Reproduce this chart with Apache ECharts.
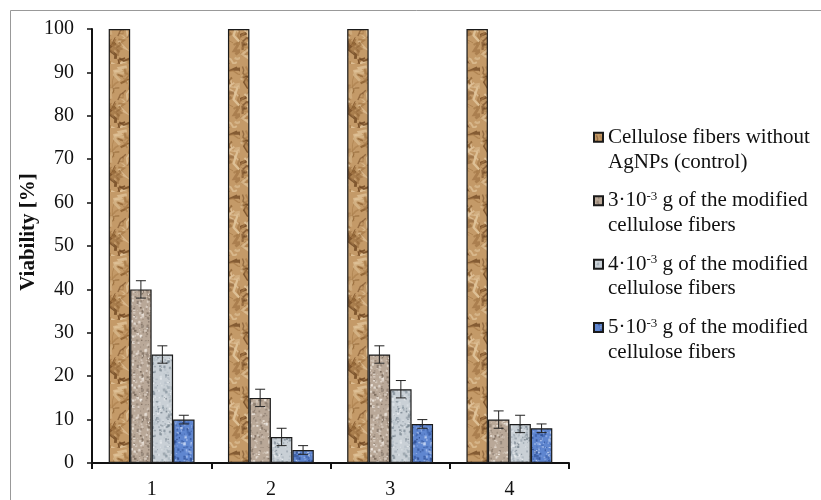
<!DOCTYPE html>
<html><head><meta charset="utf-8">
<script src="https://cdn.jsdelivr.net/npm/echarts@6/dist/echarts.min.js"></script>
<style>html,body{margin:0;padding:0;background:#fff}#c{width:821px;height:500px}</style>
</head><body><div id="c"></div>
<script>
// ---- data ----
const categories = ['1', '2', '3', '4'];
const seriesNames = [
  'Cellulose fibers without\nAgNPs (control)',
  '3·10-3 g of the modified\ncellulose fibers',
  '4·10-3 g of the modified\ncellulose fibers',
  '5·10-3 g of the modified\ncellulose fibers'
];
const controlValues = [100, 100, 100, 100];
const dose3Values = [40, 15, 25, 10];
const dose4Values = [25, 6, 17, 9];
const dose5Values = [10, 3, 9, 8];
const controlErr = [0, 0, 0, 0];
const dose3Err = [2, 2, 2, 2];
const dose4Err = [2, 2, 2, 2];
const dose5Err = [1, 1, 1, 1];
const yTicks = [0, 10, 20, 30, 40, 50, 60, 70, 80, 90, 100];

// ---- textures (style only) ----
function rng(seed){ let s = seed >>> 0; return () => { s = (s * 1664525 + 1013904223) >>> 0; return s / 4294967296; }; }
function tex(base, spots, seed, kind){
  const c = document.createElement('canvas'); c.width = 48; c.height = 64;
  const g = c.getContext('2d'); const r = rng(seed);
  g.fillStyle = base; g.fillRect(0,0,48,64);
  if (kind === 'paper') {
    for (let i = 0; i < 70; i++) {
      g.strokeStyle = spots[Math.floor(r()*spots.length)];
      g.lineWidth = 0.8 + r()*2.2; g.globalAlpha = 0.35 + r()*0.55;
      g.beginPath(); let x = r()*48, y = r()*64; g.moveTo(x,y);
      for (let k = 0; k < 3; k++){ x += (r()-0.5)*16; y += (r()-0.3)*10; g.lineTo(x,y); }
      g.stroke();
    }
  } else {
    for (let i = 0; i < 380; i++) {
      g.fillStyle = spots[Math.floor(r()*spots.length)];
      g.globalAlpha = 0.45 + r()*0.5;
      const s = 0.8 + r()*1.8;
      g.fillRect(r()*48, r()*64, s, s*(0.6+r()*0.8));
    }
  }
  g.globalAlpha = 1;
  return { image: c, repeat: 'repeat' };
}
const colors = [
  tex('#c49a68', ['#6e4520', '#8e6233', '#e3c79e', '#a87c4a'], 11, 'paper'),
  tex('#b9a898', ['#7a6a5c', '#d8ccc0', '#8e7f72', '#efe8e0'], 23, 'dots'),
  tex('#c9d0d6', ['#8e9aa4', '#e8ecef', '#7a8690', '#b0bac2'], 37, 'dots'),
  tex('#5f86d0', ['#9bb6ea', '#3a5ea8', '#c4d4f2', '#2f4f94'], 51, 'dots')
];
const values = [controlValues, dose3Values, dose4Values, dose5Values];
const errs = [controlErr, dose3Err, dose4Err, dose5Err];
const CAT_GAP = 0.28;

const chart = echarts.init(document.getElementById('c'), null, { renderer: 'canvas' });
const FONT = "'Liberation Serif', 'Times New Roman', serif";

const series = [];
values.forEach((vals, i) => {
  series.push({
    name: seriesNames[i], type: 'bar', data: vals,
    barGap: '0%', barCategoryGap: (CAT_GAP*100) + '%',
    itemStyle: { color: colors[i], borderColor: '#1a1a1a', borderWidth: 1.2 }
  });
});
values.forEach((vals, i) => {
  if (i === 0) return;
  series.push({
    type: 'custom', silent: true, z: 5,
    data: vals.map((v, j) => [j, v, errs[i][j]]),
    renderItem: function(params, api){
      const j = api.value(0), v = api.value(1), e = api.value(2);
      const catW = api.size([1, 0])[0];
      const groupW = catW * (1 - CAT_GAP);
      const bw = groupW / 4;
      const p = api.coord([j, v]);
      const x = p[0] - groupW/2 + (i + 0.5) * bw;
      const yt = api.coord([j, v + e])[1];
      const yb = api.coord([j, v - e])[1];
      const cap = 5;
      const st = { stroke: '#222', lineWidth: 1 };
      return { type: 'group', children: [
        { type: 'line', shape: { x1: x, y1: yt, x2: x, y2: yb }, style: st },
        { type: 'line', shape: { x1: x-cap, y1: yt, x2: x+cap, y2: yt }, style: st },
        { type: 'line', shape: { x1: x-cap, y1: yb, x2: x+cap, y2: yb }, style: st }
      ]};
    }
  });
});

function legendFmt(name){
  const lines = name.split('\n');
  const first = lines[0].replace(/10-3/, '10{s|-3}');
  return '{t|' + first.replace('{s|-3}', '}{s|-3}{t|') + '}\n{t|' + lines[1] + '}';
}

chart.setOption({
  animation: false,
  backgroundColor: '#fff',
  grid: { left: 92, right: 252, top: 29, bottom: 37 },
  xAxis: {
    type: 'category', data: categories,
    axisLine: { lineStyle: { color: '#111', width: 2 } },
    axisTick: { show: true, length: 6, lineStyle: { color: '#111', width: 2 } },
    axisLabel: { color: '#111', fontFamily: FONT, fontSize: 20, margin: 17 }
  },
  yAxis: {
    type: 'value', min: yTicks[0], max: yTicks[yTicks.length-1], interval: 10,
    name: 'Viability [%]', nameLocation: 'middle', nameGap: 53, nameMoveOverlap: false,
    nameTextStyle: { color: '#111', fontFamily: FONT, fontSize: 21, fontWeight: 'bold', padding: [0, 0, 0, 28] },
    axisLine: { show: true, lineStyle: { color: '#111', width: 2 } },
    axisTick: { show: true, length: 5, lineStyle: { color: '#111', width: 1.5 } },
    splitLine: { show: false },
    axisLabel: { color: '#111', fontFamily: FONT, fontSize: 20, margin: 18 }
  },
  legend: {
    orient: 'vertical', left: 588, top: 122, itemGap: 16.2,
    itemWidth: 9, itemHeight: 9, icon: 'rect',
    data: seriesNames,
    formatter: legendFmt,
    textStyle: {
      padding: [25, 0, 0, 0],
      rich: {
        t: { fontFamily: FONT, fontSize: 21, color: '#111', lineHeight: 24.5 },
        s: { fontFamily: FONT, fontSize: 13, color: '#111', lineHeight: 24.5, verticalAlign: 'top', padding: [1, 0, 0, 0] }
      }
    }
  },
  graphic: [
    { type: 'rect', shape: { x: 10.5, y: 10.5, width: 830, height: 520 }, style: { fill: 'none', stroke: '#999', lineWidth: 1 }, silent: true }
  ],
  series: series
});
</script></body></html>
